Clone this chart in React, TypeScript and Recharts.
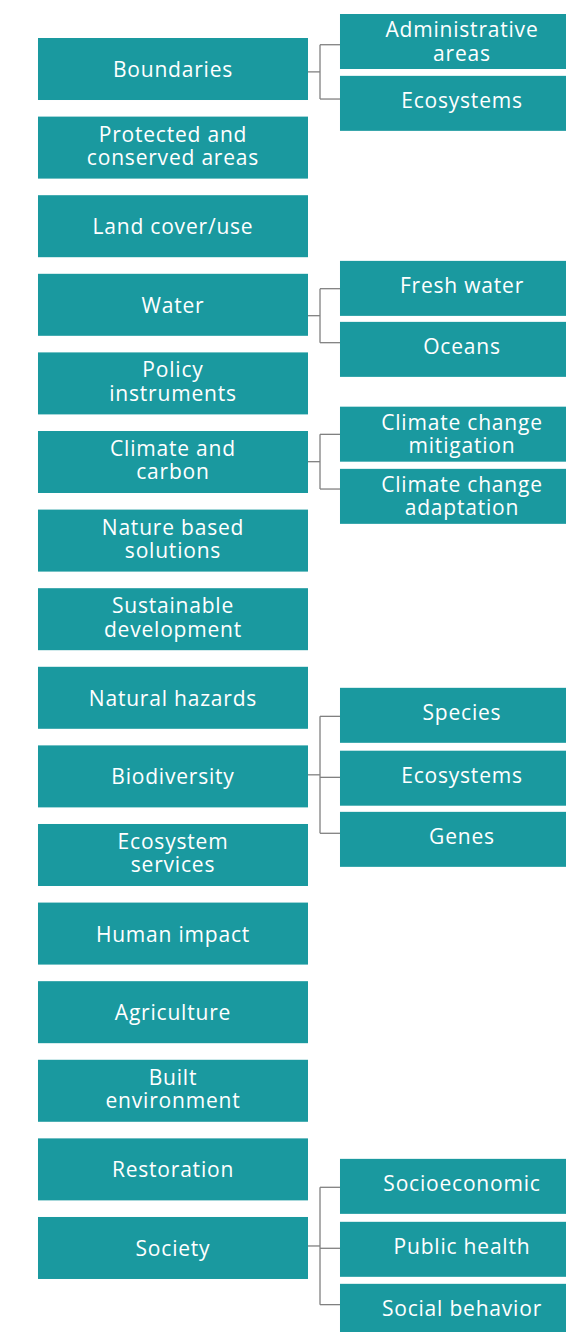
import React from 'react';
import { ScatterChart, Scatter, XAxis, YAxis, ReferenceLine } from 'recharts';

// main topics, one per row (row = index)
const mainTopics = [
  'Boundaries',
  'Protected and\nconserved areas',
  'Land cover/use',
  'Water',
  'Policy\ninstruments',
  'Climate and\ncarbon',
  'Nature based\nsolutions',
  'Sustainable\ndevelopment',
  'Natural hazards',
  'Biodiversity',
  'Ecosystem\nservices',
  'Human impact',
  'Agriculture',
  'Built\nenvironment',
  'Restoration',
  'Society',
];

// sub topics, their parent, their row position and where the connector meets them
const subTopics = [
  'Administrative\nareas', 'Ecosystems',
  'Fresh water', 'Oceans',
  'Climate change\nmitigation', 'Climate change\nadaptation',
  'Species', 'Ecosystems', 'Genes',
  'Socioeconomic', 'Public health', 'Social behavior',
];
const subParents = [0, 0, 3, 3, 5, 5, 9, 9, 9, 15, 15, 15];
const subRows = [-0.35, 0.437, 2.791, 3.567, 4.646, 5.437, 8.223, 9.023, 9.801, 14.216, 15.017, 15.806];
const subLinkRows = [-0.309, 0.382, 2.795, 3.482, 4.648, 5.344, 8.236, 9.012, 9.724, 14.228, 15.004, 15.721];

const TEAL = '#1a999f';
const LINE = '#808080';
const FONT = '"Open Sans", sans-serif';

// column layout (x units: main column = 0, sub column = 1)
const MAIN_EDGE = 0.4671;
const JUNCTION = 0.5087;
const SUB_EDGE = 0.5779;

const mainData = mainTopics.map((label, i) => ({ col: 0, row: i, label }));
const subData = subTopics.map((label, i) => ({ col: 1, row: subRows[i], label }));

const BoxShape = (w: number, h: number, oneLine: number, twoLine: number) => (props: any) => {
  const { cx, cy, payload } = props;
  const lines: string[] = payload.label.split('\n');
  const mid = lines.length > 1 ? twoLine : oneLine;
  return (
    <g>
      <rect x={cx - w / 2} y={cy - h / 2} width={w} height={h} fill={TEAL} />
      <text textAnchor="middle" fill="#ffffff" fontFamily={FONT} fontSize={21} letterSpacing={0.8}>
        {lines.map((l, i) => (
          <tspan key={i} x={cx} y={cy + mid + (i - (lines.length - 1) / 2) * 23.5}>{l}</tspan>
        ))}
      </text>
    </g>
  );
};

const MainBox = BoxShape(270, 62, 8, 5.75);
const SubBox = BoxShape(244, 55, 5, 7.3);

export default function App() {
  const groups = Array.from(new Set(subParents));
  return (
    <div style={{ position: 'absolute', left: 0, top: 0, width: 566, height: 1332, background: '#fff', overflow: 'hidden' }}>
      <ScatterChart width={566} height={1332} margin={{ top: 0, right: 0, bottom: 0, left: 0 }}>
        <XAxis type="number" dataKey="col" domain={[-0.5986, 1.3599]} allowDataOverflow hide />
        <YAxis type="number" dataKey="row" domain={[-0.878, 16.069]} allowDataOverflow reversed hide />

        {groups.map((p) => {
          const links = subLinkRows.filter((_, i) => subParents[i] === p);
          const top = Math.min(...links);
          const bottom = Math.max(...links);
          const middle = (top + bottom) / 2;
          return (
            <React.Fragment key={`g-${p}`}>
              <ReferenceLine segment={[{ x: MAIN_EDGE, y: middle }, { x: JUNCTION, y: middle }]} stroke={LINE} strokeWidth={1.3} />
              <ReferenceLine segment={[{ x: JUNCTION, y: top }, { x: JUNCTION, y: bottom }]} stroke={LINE} strokeWidth={1.3} />
            </React.Fragment>
          );
        })}
        {subLinkRows.map((r, i) => (
          <ReferenceLine key={`l-${i}`} segment={[{ x: JUNCTION, y: r }, { x: SUB_EDGE, y: r }]} stroke={LINE} strokeWidth={1.3} />
        ))}

        <Scatter data={mainData} shape={MainBox} isAnimationActive={false} />
        <Scatter data={subData} shape={SubBox} isAnimationActive={false} />
      </ScatterChart>
    </div>
  );
}
